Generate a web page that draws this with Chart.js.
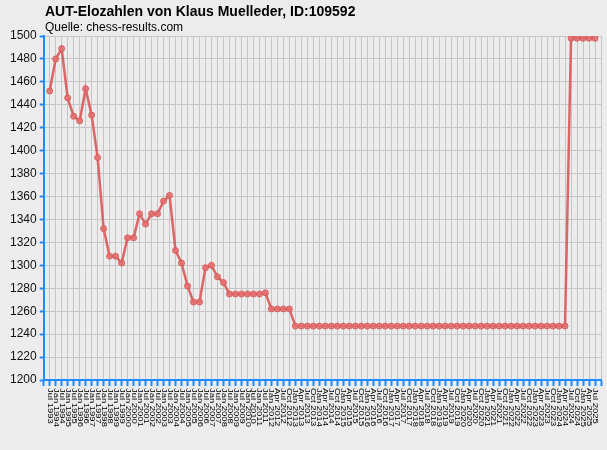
<!DOCTYPE html>
<html>
<head>
<meta charset="utf-8">
<title>AUT-Elozahlen</title>
<script src="https://cdn.jsdelivr.net/npm/chart.js@4"></script>
<style>
  html, body { margin: 0; padding: 0; background: #ececec; }
  #wrap { width: 607px; height: 450px; }
</style>
</head>
<body>
<div id="wrap"><canvas id="eloChart" width="607" height="450"></canvas></div>
<script>
const chartTitle = "AUT-Elozahlen von Klaus Muelleder, ID:109592";
const chartSource = "Quelle: chess-results.com";

// Ranglisten-Termine (halbjährlich bis 2012, dann quartalsweise)
const periods = [
  "Jul 1993", "Jan 1994", "Jul 1994", "Jan 1995", "Jul 1995", "Jan 1996", "Jul 1996",
  "Jan 1997", "Jul 1997", "Jan 1998", "Jul 1998", "Jan 1999", "Jul 1999", "Jan 2000",
  "Jul 2000", "Jan 2001", "Jul 2001", "Jan 2002", "Jul 2002", "Jan 2003", "Jul 2003",
  "Jan 2004", "Jul 2004", "Jan 2005", "Jul 2005", "Jan 2006", "Jul 2006", "Jan 2007",
  "Jul 2007", "Jan 2008", "Jul 2008", "Jan 2009", "Jul 2009", "Jan 2010", "Jul 2010",
  "Jan 2011", "Jul 2011", "Jan 2012",
  "Apr 2012", "Jul 2012", "Oct 2012",
  "Jan 2013", "Apr 2013", "Jul 2013", "Oct 2013",
  "Jan 2014", "Apr 2014", "Jul 2014", "Oct 2014",
  "Jan 2015", "Apr 2015", "Jul 2015", "Oct 2015",
  "Jan 2016", "Apr 2016", "Jul 2016", "Oct 2016",
  "Jan 2017", "Apr 2017", "Jul 2017", "Oct 2017",
  "Jan 2018", "Apr 2018", "Jul 2018", "Oct 2018",
  "Jan 2019", "Apr 2019", "Jul 2019", "Oct 2019",
  "Jan 2020", "Apr 2020", "Jul 2020", "Oct 2020",
  "Jan 2021", "Apr 2021", "Jul 2021", "Oct 2021",
  "Jan 2022", "Apr 2022", "Jul 2022", "Oct 2022",
  "Jan 2023", "Apr 2023", "Jul 2023", "Oct 2023",
  "Jan 2024", "Apr 2024", "Jul 2024", "Oct 2024",
  "Jan 2025", "Apr 2025", "Jul 2025"
];

// Elo-Werte
const eloValues = [
  1452, 1480, 1489, 1446, 1430, 1426, 1454, 1431, 1394, 1332,
  1308, 1308, 1302, 1324, 1324, 1345, 1336, 1345, 1345, 1356,
  1361, 1313, 1302, 1282, 1268, 1268, 1298, 1300, 1290, 1285,
  1275, 1275, 1275, 1275, 1275, 1275, 1276,
  1262, 1262, 1262, 1262,
  1247, 1247, 1247, 1247, 1247, 1247, 1247, 1247, 1247, 1247,
  1247, 1247, 1247, 1247, 1247, 1247, 1247, 1247, 1247, 1247,
  1247, 1247, 1247, 1247, 1247, 1247, 1247, 1247, 1247, 1247,
  1247, 1247, 1247, 1247, 1247, 1247, 1247, 1247, 1247, 1247,
  1247, 1247, 1247, 1247, 1247, 1247,
  1498, 1498, 1498, 1498, 1498
];

const yMin = 1200;
const yMax = 1500;
const yStep = 20;

// leere Randkategorien, damit links und rechts ein Rasterfeld frei bleibt
const xLabels = [""].concat(periods, [""]);
const xData = [null].concat(eloValues, [null]);

const axisBlue = "#1e8cff";

// Titel und gedrehte Achsenbeschriftung selbst zeichnen
const textPlugin = {
  id: "textPlugin",
  afterDraw(chart) {
    const c = chart.ctx;
    const xs = chart.scales.x;
    c.save();
    c.fillStyle = "#000";
    c.textAlign = "left";
    c.textBaseline = "alphabetic";
    c.font = 'bold 14px "Liberation Sans", Arial, sans-serif';
    c.fillText(chartTitle, 45, 16);
    c.font = '12px "Liberation Sans", Arial, sans-serif';
    c.fillText(chartSource, 45, 31);

    c.font = '7px "Liberation Sans", Arial, sans-serif';
    c.textBaseline = "middle";
    const top = chart.chartArea.bottom + 8;
    for (let i = 1; i <= periods.length; i++) {
      const x = xs.getPixelForValue(i);
      c.save();
      c.translate(x, top);
      c.rotate(Math.PI / 2);
      c.scale(1.35, 1);
      c.fillText(xLabels[i], 0, 0);
      c.restore();
    }
    c.restore();
  }
};

const ctx = document.getElementById("eloChart").getContext("2d");

const eloChart = new Chart(ctx, {
  type: "line",
  data: {
    labels: xLabels,
    datasets: [
      {
        label: "Elo",
        data: xData,
        borderColor: "rgba(216, 88, 88, 0.9)",
        borderWidth: 2.5,
        backgroundColor: "rgba(228, 110, 110, 0.85)",
        pointBorderColor: "rgba(216, 88, 88, 0.9)",
        pointBorderWidth: 1,
        pointRadius: 3,
        pointHoverRadius: 3,
        fill: false,
        tension: 0,
        spanGaps: false,
      },
    ],
  },
  options: {
    responsive: false,
    animation: false,
    layout: {
      padding: { top: 36, right: 6, bottom: 64, left: 7 },
    },
    plugins: {
      legend: { display: false },
      title: { display: false },
      tooltip: { enabled: false },
    },
    scales: {
      x: {
        type: "category",
        offset: false,
        grid: {
          color: "#c6c6c6",
          lineWidth: 1,
          drawTicks: true,
          tickLength: 6,
          tickColor: axisBlue,
          tickWidth: 2,
        },
        border: { color: axisBlue, width: 2 },
        ticks: { display: false, autoSkip: false },
      },
      y: {
        min: yMin,
        max: yMax,
        grid: {
          color: "#c6c6c6",
          lineWidth: 1,
          tickLength: 4,
          tickColor: axisBlue,
          tickWidth: 2,
        },
        border: { color: axisBlue, width: 2 },
        ticks: {
          stepSize: yStep,
          padding: 3,
          color: "#111",
          font: { family: '"Liberation Sans", Arial, sans-serif', size: 12 },
          callback: (value) => String(value),
        },
      },
    },
  },
  plugins: [textPlugin],
});
</script>
</body>
</html>
